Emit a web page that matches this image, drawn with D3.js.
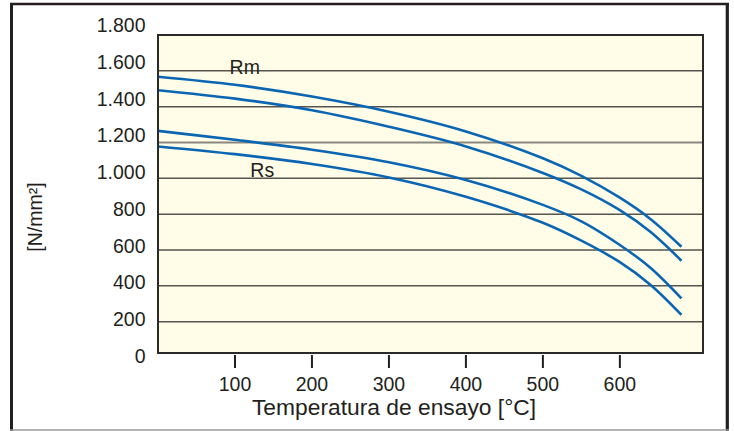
<!DOCTYPE html>
<html><head><meta charset="utf-8">
<script src="https://cdn.jsdelivr.net/npm/d3@7"></script>
<style>body{margin:0;background:#fff}svg{display:block}text{font-family:"Liberation Sans",Arial,sans-serif;fill:#231f20}</style>
</head><body>
<svg id="c" width="734" height="431"></svg>
<script>
// Data (temperature °C → strength N/mm²)
const temps = [0, 100, 200, 300, 400, 500, 550, 600, 640, 680];
const rmUpper = [1567, 1522, 1457, 1372, 1262, 1112, 1014, 892, 772, 618];
const rmLower = [1492, 1445, 1380, 1288, 1178, 1030, 938, 822, 700, 540];
const rsUpper = [1265, 1215, 1160, 1090, 991, 852, 760, 628, 500, 330];
const rsLower = [1178, 1135, 1080, 1005, 897, 752, 652, 532, 405, 238];
const series = [rmUpper, rmLower, rsUpper, rsLower];
const xTicks = [100, 200, 300, 400, 500, 600];
const yTicks = [0, 200, 400, 600, 800, 1000, 1200, 1400, 1600, 1800];
const yTickLabels = ["0", "200", "400", "600", "800", "1.000", "1.200", "1.400", "1.600", "1.800"];
const xTitle = "Temperatura de ensayo [°C]";
const yTitle = "[N/mm²]";
const curveLabels = [{text: "Rm", t: 93, v: 1580}, {text: "Rs", t: 120, v: 1010}];

const svg = d3.select("#c");
const L = 158, R = 703, T = 35, B = 353;
const x = d3.scaleLinear().domain([0, 708]).range([L, R]);
const y = d3.scaleLinear().domain([0, 1800]).range([357.5, 35]);
const yLab = d3.scaleLinear().domain([0, 1800]).range([356, 25]);

// outer frame
svg.append("line").attr("x1", 11.5).attr("x2", 11.5).attr("y1", 3).attr("y2", 431).attr("stroke", "#231f20").attr("stroke-width", 3);
svg.append("line").attr("x1", 10).attr("x2", 729).attr("y1", 4).attr("y2", 4).attr("stroke", "#231f20").attr("stroke-width", 2.5);
svg.append("line").attr("x1", 727.3).attr("x2", 727.3).attr("y1", 3).attr("y2", 431).attr("stroke", "#231f20").attr("stroke-width", 3.2);
svg.append("line").attr("x1", 10).attr("x2", 729).attr("y1", 430).attr("y2", 430).attr("stroke", "#9a9a9a").attr("stroke-width", 1.5);

// plot background
svg.append("rect").attr("x", L).attr("y", T).attr("width", R - L).attr("height", B - T).attr("fill", "#fffce8");

// gridlines
svg.append("g").selectAll("line").data(yTicks.filter(v => v > 0 && v < 1800)).join("line")
  .attr("x1", L).attr("x2", R).attr("y1", d => y(d)).attr("y2", d => y(d))
  .attr("stroke", d => d === 1200 ? "#8a8880" : "#55544f")
  .attr("stroke-width", d => d === 1200 ? 2.2 : 1.5);

// curves
const line = d3.line().x((d, i) => x(temps[i])).y(d => y(d)).curve(d3.curveCatmullRom.alpha(0.5));
svg.append("g").selectAll("path").data(series).join("path")
  .attr("d", d => line(d)).attr("fill", "none").attr("stroke", "#0a66b2").attr("stroke-width", 2.6);

// plot border
svg.append("rect").attr("x", L).attr("y", T).attr("width", R - L).attr("height", B - T)
  .attr("fill", "none").attr("stroke", "#2b2a28").attr("stroke-width", 2);

// x ticks
const xg = svg.append("g");
xg.selectAll("line").data(xTicks).join("line")
  .attr("x1", d => x(d)).attr("x2", d => x(d)).attr("y1", 355).attr("y2", 368)
  .attr("stroke", "#231f20").attr("stroke-width", 2);
xg.selectAll("text").data(xTicks).join("text")
  .attr("x", d => x(d)).attr("y", 391).attr("text-anchor", "middle").attr("font-size", 19.5).text(d => d);

// y tick labels
svg.append("g").selectAll("text").data(yTicks).join("text")
  .attr("x", 145.5).attr("y", d => yLab(d) + 7).attr("text-anchor", "end").attr("font-size", 19.5)
  .text((d, i) => yTickLabels[i]);

// titles
svg.append("text").attr("x", 394).attr("y", 415).attr("text-anchor", "middle").attr("font-size", 22.8).text(xTitle);
svg.append("text").attr("transform", "translate(42,217) rotate(-90)").attr("text-anchor", "middle").attr("font-size", 19.5).text(yTitle);

// curve labels
svg.append("g").selectAll("text").data(curveLabels).join("text")
  .attr("x", d => x(d.t)).attr("y", d => y(d.v)).attr("font-size", 19.5).text(d => d.text);
</script>
</body></html>
